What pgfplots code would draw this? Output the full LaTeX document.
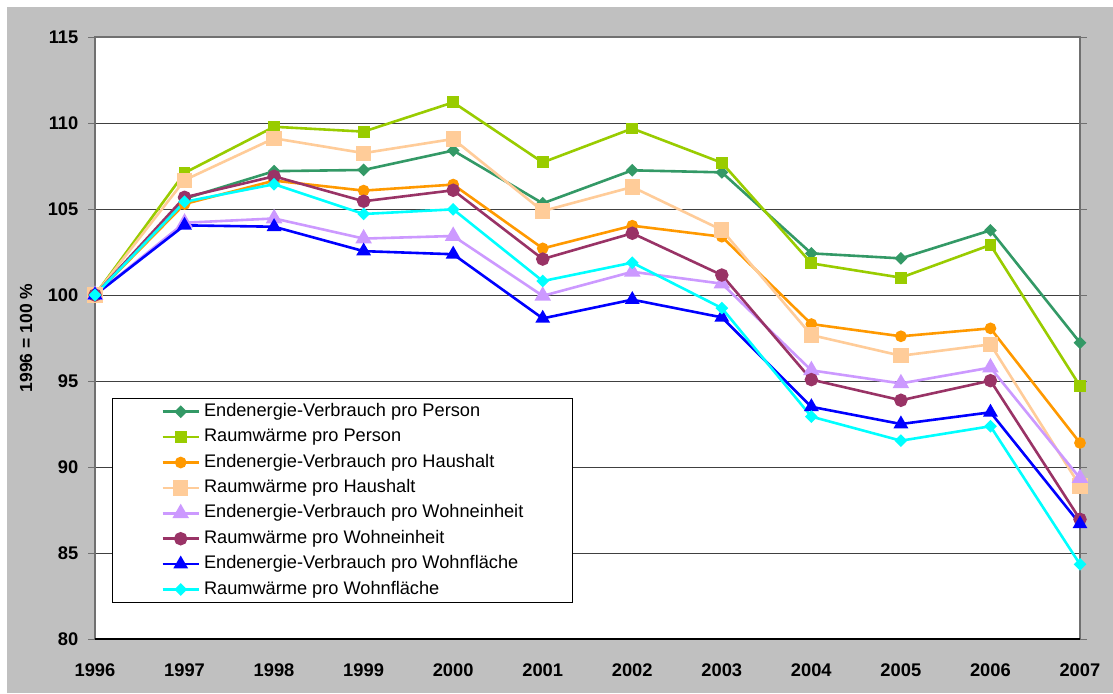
\documentclass[border=0pt]{standalone}
\usepackage{pgfplots}
\pgfplotsset{compat=1.18}
\usepackage{fontspec}
\setmainfont{Liberation Sans}
\definecolor{bggray}{HTML}{C0C0C0}
\definecolor{cEP}{HTML}{339966}
\definecolor{cRP}{HTML}{99CC00}
\definecolor{cEH}{HTML}{FF9900}
\definecolor{cRH}{HTML}{FFCC99}
\definecolor{cEW}{HTML}{CC99FF}
\definecolor{cRW}{HTML}{993366}
\definecolor{cEF}{HTML}{0000FF}
\definecolor{cRF}{HTML}{00FFFF}
\definecolor{bordergray}{HTML}{707070}
\begin{document}
\begin{tikzpicture}
\fill[white] (0pt,0pt) rectangle (1113pt,-693pt);
\fill[bggray] (7pt,-7pt) rectangle (1113pt,-693pt);
\begin{axis}[
  at={(95pt,-639pt)}, anchor=south west,
  scale only axis, width=985pt, height=602pt,
  xmin=1996, xmax=2007, ymin=80, ymax=115,
  xtick={1996,1997,...,2007},
  ytick={80,85,...,115},
  /pgf/number format/set thousands separator={},
  /pgf/number format/assume math mode=true,
  tick label style={font=\fontsize{18.3}{21}\selectfont\bfseries, black},
  tick align=outside,
  major tick length=7pt,
  xtick style={draw=none},
  ytick style={draw=bordergray, line width=1pt},
  xticklabel style={anchor=north, inner sep=0pt, yshift=-18pt},
  yticklabel style={anchor=east, inner sep=0pt, xshift=-9.5pt},
  ymajorgrids,
  grid style={black!75, line width=1pt},
  axis line style={bordergray, line width=1.2pt},
  axis background/.style={fill=white},
  ylabel={1996 = 100 \%},
  ylabel style={font=\fontsize{17.5}{20}\selectfont\bfseries, at={(rel axis cs:0,0.5)}, anchor=center, rotate=0, yshift=69pt},
  clip=false,
  every axis plot/.append style={line width=2.6pt},
  legend image code/.code={\draw[mark repeat=2,mark phase=2,#1] plot coordinates {(0pt,0pt) (18pt,0pt) (36pt,0pt)};},
  legend cell align=left,
  legend style={at={(rel axis cs:0.01726,0.4003)}, anchor=north west,
    draw=black, line width=0.8pt, fill=white,
    inner xsep=49pt, inner ysep=5pt,
    font=\fontsize{18.2}{21}\selectfont,
    row sep=8.8pt,
    nodes={inner sep=0pt, text height=12.8pt, text depth=3.8pt},
    /tikz/every odd column/.append style={column sep=4pt}},
]
\addplot[cEP, mark=square*, mark options={rotate=45, scale=1}, mark size=3.2pt] coordinates {
(1996,100) (1997,105.6) (1998,107.2) (1999,107.27) (2000,108.4) (2001,105.33) (2002,107.25) (2003,107.13) (2004,102.42) (2005,102.13) (2006,103.76) (2007,97.23)};
\addlegendentry{Endenergie-Verbrauch pro Person}
\addplot[cRP, mark=square*, mark size=4.6pt] coordinates {
(1996,100) (1997,107.1) (1998,109.78) (1999,109.5) (2000,111.2) (2001,107.71) (2002,109.68) (2003,107.69) (2004,101.84) (2005,101.01) (2006,102.91) (2007,94.71)};
\addlegendentry{Raumwärme pro Person}
\addplot[cEH, mark=*, mark size=4.5pt] coordinates {
(1996,100) (1997,105.29) (1998,106.65) (1999,106.07) (2000,106.42) (2001,102.71) (2002,104.03) (2003,103.39) (2004,98.31) (2005,97.6) (2006,98.06) (2007,91.4)};
\addlegendentry{Endenergie-Verbrauch pro Haushalt}
\addplot[cRH, mark=square*, mark size=6.3pt] coordinates {
(1996,100) (1997,106.68) (1998,109.11) (1999,108.25) (2000,109.07) (2001,104.88) (2002,106.28) (2003,103.78) (2004,97.67) (2005,96.47) (2006,97.13) (2007,88.9)};
\addlegendentry{Raumwärme pro Haushalt}
\addplot[cEW, mark=triangle*, mark size=7pt] coordinates {
(1996,100) (1997,104.2) (1998,104.45) (1999,103.28) (2000,103.43) (2001,99.95) (2002,101.35) (2003,100.66) (2004,95.62) (2005,94.86) (2006,95.78) (2007,89.35)};
\addlegendentry{Endenergie-Verbrauch pro Wohneinheit}
\addplot[cRW, mark=*, mark size=5.4pt] coordinates {
(1996,100) (1997,105.68) (1998,106.9) (1999,105.45) (2000,106.09) (2001,102.09) (2002,103.59) (2003,101.16) (2004,95.08) (2005,93.88) (2006,95.02) (2007,86.96)};
\addlegendentry{Raumwärme pro Wohneinheit}
\addplot[cEF, mark=triangle*, mark size=6pt] coordinates {
(1996,100) (1997,104.05) (1998,103.97) (1999,102.55) (2000,102.37) (2001,98.64) (2002,99.73) (2003,98.7) (2004,93.5) (2005,92.5) (2006,93.18) (2007,86.69)};
\addlegendentry{Endenergie-Verbrauch pro Wohnfläche}
\addplot[cRF, mark=square*, mark options={rotate=45}, mark size=3.2pt] coordinates {
(1996,100) (1997,105.42) (1998,106.44) (1999,104.71) (2000,104.98) (2001,100.81) (2002,101.88) (2003,99.24) (2004,92.93) (2005,91.53) (2006,92.37) (2007,84.34)};
\addlegendentry{Raumwärme pro Wohnfläche}
\draw[black, line width=1.2pt] (rel axis cs:0,0) -- (rel axis cs:1,0);
\end{axis}
\end{tikzpicture}
\end{document}
